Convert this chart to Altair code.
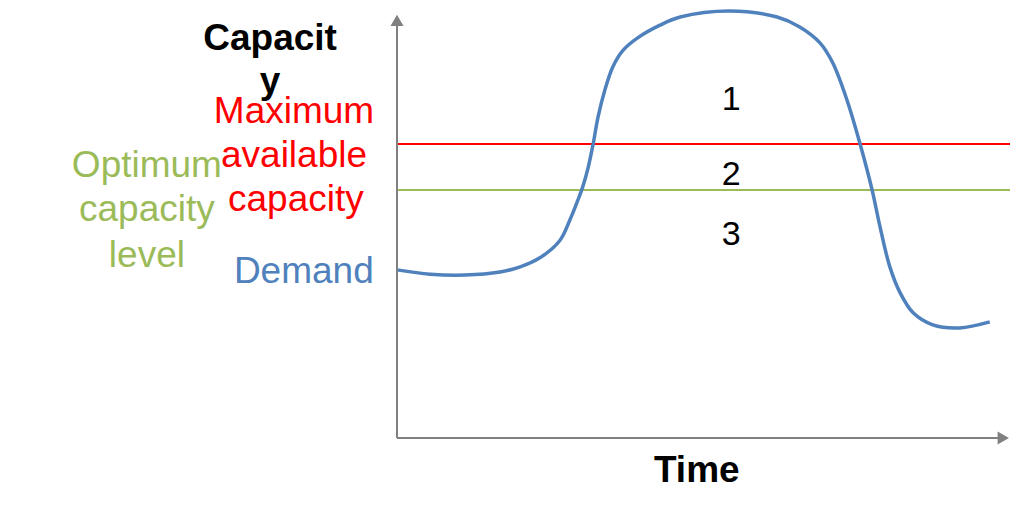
import altair as alt
import pandas as pd

# Demand curve (time 0-100, capacity 0-100)
time_vals = [0, 5.4, 11.1, 16.8, 20.1, 23.3, 26.6, 28.2, 29.5, 30.3, 31.2, 32.0, 32.8,
             33.9, 35.2, 36.9, 39.2, 42.9, 46.2, 54.2, 62.0, 65.7, 69.0, 71.1, 73.4,
             75.5, 77.5, 78.8, 80.4, 82.1, 84.2, 87.4, 91.8, 96.7]
demand_vals = [39.1, 38.1, 37.9, 38.6, 39.8, 41.9, 46.0, 50.7, 55.3, 58.4, 63.0, 68.4, 74.7,
               80.9, 86.3, 90.2, 93.0, 96.0, 97.9, 99.3, 97.9, 95.6, 91.9, 87.2, 78.6,
               68.6, 57.7, 49.1, 39.8, 33.7, 29.1, 26.3, 25.6, 27.0]

max_capacity = 68.4
optimum_capacity = 57.7
line_start, line_end = 0, 100

axis_tip_y = 97.1
axis_tip_x = 98.9

# labels
label_text = ["Capacit", "y", "Maximum", "available", "capacity",
              "Optimum", "capacity", "level", "Demand", "1", "2", "3", "Time"]
label_t = [-20.7, -20.7, -16.8, -16.8, -16.5, -40.8, -40.8, -40.8, -15.2, 54.5, 54.5, 54.5, 48.9]
label_c = [90.2, 80.2, 73.3, 63.0, 52.8, 60.7, 50.5, 39.8, 36.0, 76.3, 58.8, 44.9, -10.2]
label_color = ["#000000", "#000000", "#FF0000", "#FF0000", "#FF0000",
               "#9BBB59", "#9BBB59", "#9BBB59", "#4F81BD", "#000000", "#000000", "#000000", "#000000"]
label_weight = ["bold", "bold", "normal", "normal", "normal", "normal", "normal", "normal",
                "normal", "normal", "normal", "normal", "bold"]
label_size = [37, 37, 37, 37, 37, 37, 37, 37, 37, 34, 34, 34, 37]

FONT = "Liberation Sans"

xs = alt.Scale(domain=[0, 100], nice=False, zero=False)
ys = alt.Scale(domain=[0, 100], nice=False, zero=False)

demand_df = pd.DataFrame({"t": time_vals, "c": demand_vals})
levels_df = pd.DataFrame({
    "t": [line_start, line_start], "t2": [line_end, line_end],
    "c": [max_capacity, optimum_capacity], "color": ["#FF0000", "#9BBB59"]})
labels_df = pd.DataFrame({"text": label_text, "t": label_t, "c": label_c,
                          "color": label_color, "weight": label_weight, "size": label_size})

X = lambda f: alt.X(f, type="quantitative", scale=xs, axis=None)
Y = lambda f: alt.Y(f, type="quantitative", scale=ys, axis=None)

gray = "#808080"

yaxis = alt.Chart(pd.DataFrame({"t": [0], "c": [0], "c2": [axis_tip_y]})).mark_rule(
    color=gray, strokeWidth=2).encode(x=X("t"), y=Y("c"), y2="c2")
xaxis = alt.Chart(pd.DataFrame({"t": [0], "t2": [axis_tip_x], "c": [0]})).mark_rule(
    color=gray, strokeWidth=2).encode(x=X("t"), x2="t2", y=Y("c"))
uparrow = alt.Chart(pd.DataFrame({"t": [0], "c": [axis_tip_y]})).mark_point(
    shape="triangle-up", filled=True, color=gray, size=170, opacity=1).encode(x=X("t"), y=Y("c"))
rightarrow = alt.Chart(pd.DataFrame({"t": [axis_tip_x], "c": [0]})).mark_point(
    shape="triangle-right", filled=True, color=gray, size=170, opacity=1).encode(x=X("t"), y=Y("c"))

levels = alt.Chart(levels_df).mark_rule(strokeWidth=2).encode(
    x=X("t"), x2="t2", y=Y("c"), color=alt.Color("color:N", scale=None))

demand = alt.Chart(demand_df).mark_line(
    color="#4F81BD", strokeWidth=3.5, interpolate="catmull-rom").encode(x=X("t"), y=Y("c"))

text_layers = []
for w in ["bold", "normal"]:
    for s in sorted(set(label_size)):
        sub = labels_df[(labels_df.weight == w) & (labels_df["size"] == s)]
        if len(sub) == 0:
            continue
        text_layers.append(alt.Chart(sub).mark_text(
            font=FONT, fontSize=s, fontWeight=w, align="center", baseline="alphabetic").encode(
            x=X("t"), y=Y("c"), text="text:N", color=alt.Color("color:N", scale=None)))

chart = alt.layer(levels, demand, yaxis, xaxis, uparrow, rightarrow, *text_layers).properties(
    width=613, height=430,
    autosize=alt.AutoSizeParams(type="none"),
    padding={"left": 389, "top": 0, "right": 5, "bottom": 67},
).configure_view(stroke=None)

chart.save("out.html", embed_options={"renderer": "svg", "actions": False})
